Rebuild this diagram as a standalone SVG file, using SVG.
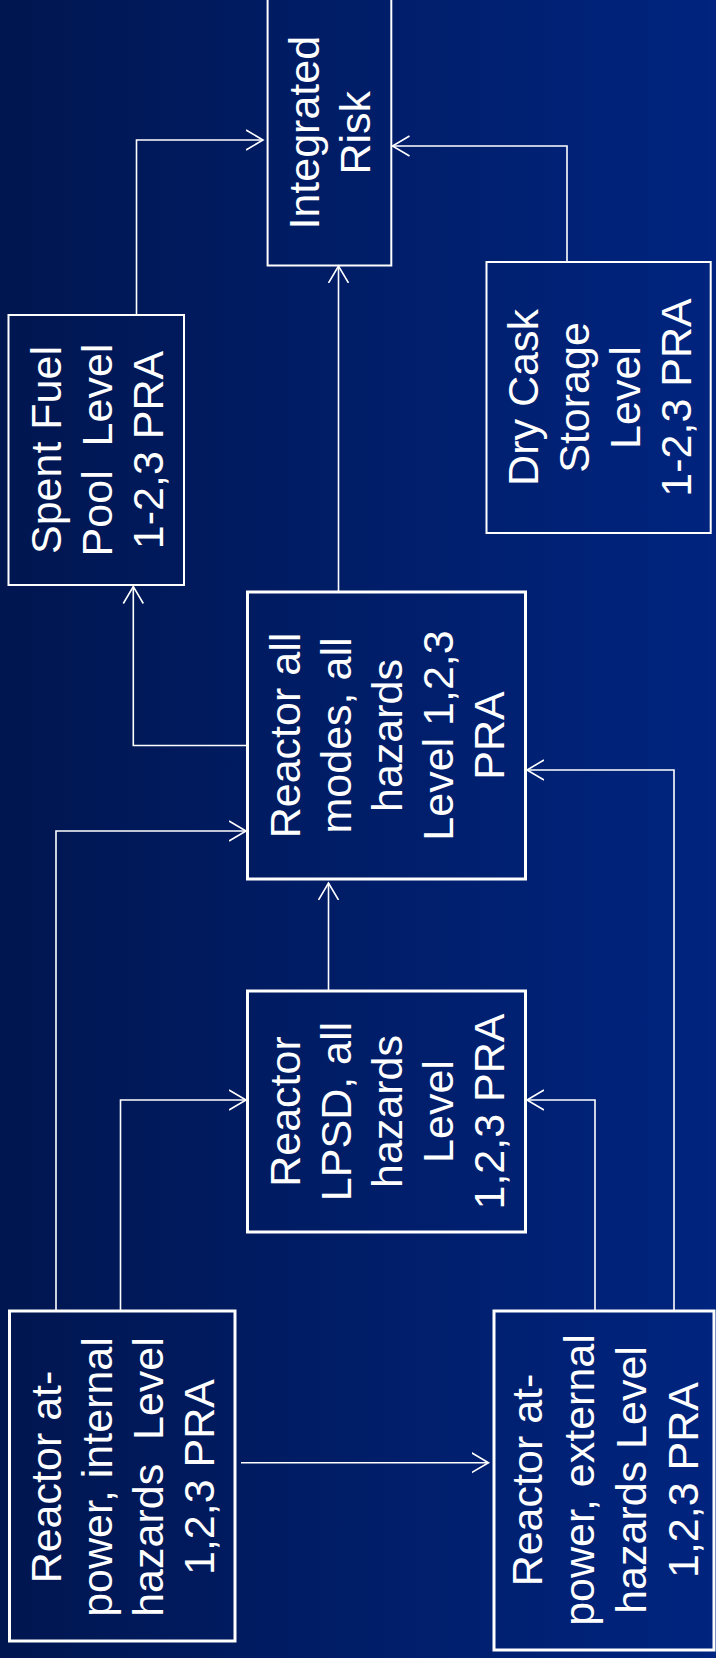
<svg xmlns="http://www.w3.org/2000/svg" width="716" height="1658" viewBox="0 0 716 1658">
<defs>
<linearGradient id="bg" x1="0" y1="0" x2="1" y2="0">
<stop offset="0" stop-color="#001650"/>
<stop offset="1" stop-color="#00247f"/>
</linearGradient>
<marker id="arr" markerUnits="userSpaceOnUse" viewBox="0 0 20 22" markerWidth="20" markerHeight="22" refX="17" refY="11" orient="auto">
<path d="M0,1 L17,11 L0,21" fill="none" stroke="#ffffff" stroke-width="1.6"/>
</marker>
<style>
.thin{fill:none;stroke:#ffffff;stroke-width:2}
.thick{fill:none;stroke:#ffffff;stroke-width:3}
.lbl{font-family:"Liberation Sans",Arial,sans-serif;font-size:43px;fill:#ffffff;text-anchor:middle}
.con path{fill:none;stroke:#ffffff;stroke-width:1.6;marker-end:url(#arr)}
</style>
</defs>
<rect x="0" y="0" width="716" height="1658" fill="url(#bg)"/>
<g id="connectors" class="con">
<path d="M136.5,315 V140 H263"/>
<path d="M567,262 V146 H392.5"/>
<path d="M338.5,592 V266"/>
<path d="M247,745.5 H133.3 V586.5"/>
<path d="M56,1311 V831 H246"/>
<path d="M120.5,1311 V1100 H246"/>
<path d="M595,1311 V1100 H527"/>
<path d="M674,1311 V770 H527"/>
<path d="M328.5,991 V883"/>
<path d="M241,1462.7 H488.5"/>
</g>
<g id="integrated-risk">
<rect class="thin" x="267.6" y="-4" width="123.7" height="269.5"/>
<text class="lbl" transform="translate(319.4,132.7) rotate(-90)"><tspan x="0" y="0">Integrated</tspan><tspan x="0" y="51">Risk</tspan></text>
</g>
<g id="spent-fuel-pool">
<rect class="thin" x="8.5" y="315" width="175.5" height="270"/>
<text class="lbl" transform="translate(61,450) rotate(-90)"><tspan x="0" y="0">Spent Fuel</tspan><tspan x="0" y="51">Pool&#160; Level</tspan><tspan x="0" y="102">1-2,3 PRA</tspan></text>
</g>
<g id="dry-cask-storage">
<rect class="thin" x="486.5" y="262" width="224.2" height="271"/>
<text class="lbl" transform="translate(537.5,397.5) rotate(-90)"><tspan x="0" y="0">Dry Cask</tspan><tspan x="0" y="51">Storage</tspan><tspan x="0" y="102">Level</tspan><tspan x="0" y="153">1-2,3 PRA</tspan></text>
</g>
<g id="reactor-all-modes">
<rect class="thick" x="247.5" y="592" width="278" height="287"/>
<text class="lbl" transform="translate(300,735.5) rotate(-90)"><tspan x="0" y="0">Reactor all</tspan><tspan x="0" y="51">modes, all</tspan><tspan x="0" y="102">hazards</tspan><tspan x="0" y="153">Level 1,2,3</tspan><tspan x="0" y="204">PRA</tspan></text>
</g>
<g id="reactor-lpsd">
<rect class="thick" x="247.5" y="991" width="278" height="241"/>
<text class="lbl" transform="translate(300,1111.5) rotate(-90)"><tspan x="0" y="0">Reactor</tspan><tspan x="0" y="51">LPSD, all</tspan><tspan x="0" y="102">hazards</tspan><tspan x="0" y="153">Level</tspan><tspan x="0" y="204">1,2,3 PRA</tspan></text>
</g>
<g id="reactor-internal">
<rect class="thick" x="9.5" y="1311" width="225.5" height="330"/>
<text class="lbl" transform="translate(61,1477) rotate(-90)"><tspan x="0" y="0">Reactor at-</tspan><tspan x="0" y="51">power, internal</tspan><tspan x="0" y="102">hazards&#160; Level</tspan><tspan x="0" y="153">1,2,3 PRA</tspan></text>
</g>
<g id="reactor-external">
<rect class="thick" x="494" y="1311" width="220" height="339"/>
<text class="lbl" transform="translate(542,1480) rotate(-90)"><tspan x="0" y="0">Reactor at-</tspan><tspan x="0" y="52">power, external</tspan><tspan x="0" y="104">hazards Level</tspan><tspan x="0" y="156">1,2,3 PRA</tspan></text>
</g>
</svg>
